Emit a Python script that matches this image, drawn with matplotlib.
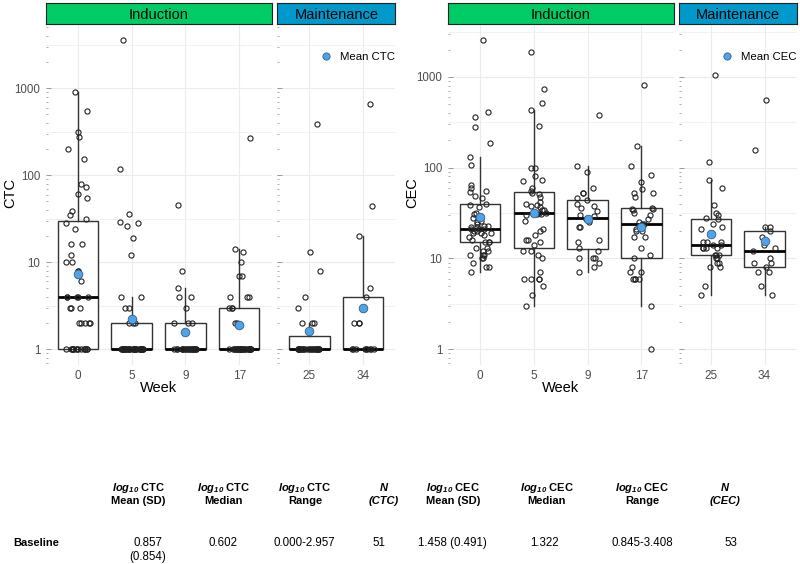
import numpy as np
import matplotlib
matplotlib.use('Agg')
import matplotlib.pyplot as plt
from matplotlib import cbook
from matplotlib.lines import Line2D
from matplotlib.ticker import FixedLocator, NullFormatter

plt.rcParams['font.family'] = ['Liberation Sans', 'DejaVu Sans']
plt.rcParams['mathtext.fontset'] = 'custom'
plt.rcParams['mathtext.it'] = 'Liberation Sans:italic:bold'
plt.rcParams['mathtext.rm'] = 'Liberation Sans:italic:bold'

# ---- data ----
induction_weeks = ['0', '5', '9', '17']
maintenance_weeks = ['25', '34']

ctc_w0 = [1, 1, 1, 1, 1, 1, 1, 1, 1, 1, 1, 1, 1, 1, 1, 2, 2, 2, 2, 2, 3, 3, 3,
          4, 4, 4, 4, 4, 6, 8, 8, 10, 10, 12, 16, 16, 24, 28, 31, 35, 39, 54,
          61, 73, 79, 153, 202, 273, 312, 548, 906]
ctc_w5 = [1, 1, 1, 1, 1, 1, 1, 1, 1, 1, 1, 1, 1, 1, 1, 1, 1, 1, 1, 1, 1, 1,
          1, 1, 1, 1, 1, 1, 1, 1, 1, 1, 1, 1, 2, 2, 2, 3, 3, 4, 4, 12, 19, 26,
          28, 29, 36, 118, 3600]
ctc_w9 = [1, 1, 1, 1, 1, 1, 1, 1, 1, 1, 1, 1, 1, 1, 1, 1, 1, 1, 1, 1, 2, 2,
          2, 3, 4, 4, 5, 8, 46]
ctc_w17 = [1, 1, 1, 1, 1, 1, 1, 1, 1, 1, 1, 1, 1, 1, 1, 1, 1, 1, 1, 1, 1, 1,
           1, 1, 1, 1, 1, 2, 2, 3, 3, 3, 4, 4, 4, 7, 7, 10, 13, 14, 271]
ctc_w25 = [1, 1, 1, 1, 1, 1, 1, 1, 1, 1, 1, 1, 1, 1, 1, 1, 1, 1, 1, 1, 1, 1,
           1, 2, 2, 2, 3, 4, 8, 13, 386]
ctc_w34 = [1, 1, 1, 1, 1, 1, 1, 1, 1, 2, 2, 2, 4, 5, 20, 44, 655]

cec_w0 = [7, 8, 8, 9, 10, 10, 11, 11, 11, 12, 12, 13, 13, 15, 15, 15, 16, 17,
          18, 19, 19, 19, 20, 20, 21, 21, 21, 22, 22, 23, 23, 24, 25, 26, 28,
          31, 32, 37, 39, 40, 46, 49, 54, 55, 60, 64, 108, 131, 186, 279, 360,
          408, 2559]
cec_w5 = [3, 4, 5, 6, 6, 6, 6, 7, 10, 11, 12, 12, 14, 15, 16, 16, 18, 20, 21,
          26, 30, 31, 31, 32, 32, 34, 34, 37, 38, 39, 40, 42, 48, 51, 53, 55,
          60, 72, 74, 81, 98, 98, 286, 433, 520, 731, 1862]
cec_w9 = [7, 8, 9, 10, 10, 10, 12, 13, 15, 16, 22, 22, 25, 27, 29, 30, 33, 36,
          38, 40, 44, 46, 52, 53, 60, 90, 103, 376]
cec_w17 = [1, 3, 6, 6, 6, 6, 7, 7, 8, 10, 11, 13, 17, 17, 20, 20, 21, 23, 24,
           24, 25, 27, 30, 32, 34, 35, 35, 36, 47, 52, 53, 58, 69, 84, 105,
           173, 823]
cec_w25 = [4, 5, 8, 8, 9, 9, 10, 10, 11, 11, 11, 13, 13, 13, 13, 14, 14, 15,
           15, 15, 19, 21, 22, 24, 27, 28, 30, 32, 39, 60, 73, 114, 1059]
cec_w34 = [4, 5, 7, 7, 8, 9, 9, 10, 12, 13, 14, 17, 20, 22, 22, 156, 550]

table_headers_ctc = [('$log_{10}$ CTC', 'Mean (SD)'), ('$log_{10}$ CTC', 'Median'),
                     ('$log_{10}$ CTC', 'Range'), ('N', '(CTC)')]
table_headers_cec = [('$log_{10}$ CEC', 'Mean (SD)'), ('$log_{10}$ CEC', 'Median'),
                     ('$log_{10}$ CEC', 'Range'), ('N', '(CEC)')]
baseline_ctc = ['0.857\n(0.854)', '0.602', '0.000-2.957', '51']
baseline_cec = ['1.458 (0.491)', '1.322', '0.845-3.408', '53']

W, H = 800, 564
GREEN = '#00CC66'
BLUE = '#0099CC'
MEAN_BLUE = '#4FA3E8'
GRID = '#EBEBEB'

fig = plt.figure(figsize=(W / 100, H / 100), dpi=100)
rng = np.random.default_rng(7)


def fx(px):
    return px / W


def fy(py):
    return 1 - py / H


def add_px_axes(left, right, top, bottom):
    return fig.add_axes([fx(left), fy(bottom), (right - left) / W, (bottom - top) / H])


def draw_facet(ax, weeks, groups, ylim, show_labels):
    pos = np.arange(len(weeks))
    stats = []
    for vals in groups:
        # box stats on the log10 scale, like ggplot with a log y-scale
        s = cbook.boxplot_stats(np.log10(vals), whis=1.5)[0]
        for k in ('med', 'q1', 'q3', 'whislo', 'whishi', 'mean'):
            s[k] = 10 ** s[k]
        s['fliers'] = []
        stats.append(s)
    ax.bxp(stats, positions=pos, widths=0.75, showfliers=False, showcaps=False,
           patch_artist=True,
           boxprops=dict(facecolor='white', edgecolor='#333333', linewidth=1.0),
           whiskerprops=dict(color='#333333', linewidth=1.0),
           medianprops=dict(color='black', linewidth=2.0), zorder=2)
    for i, vals in enumerate(groups):
        xj = i + rng.uniform(-0.22, 0.22, len(vals))
        ax.plot(xj, vals, 'o', ms=3.7, mfc='none', mec='#222222', mew=0.8, zorder=3)
        ax.plot(i, stats[i]['mean'], 'o', ms=6.2, mfc=MEAN_BLUE, mec='#2F5F8A',
                mew=0.6, zorder=4)

    ax.set_yscale('log')
    ax.set_ylim(ylim)
    ax.set_xlim(-0.6, len(weeks) - 0.4)
    ax.set_xticks(pos, weeks)
    ax.yaxis.set_major_locator(FixedLocator([1, 10, 100, 1000]))
    minors = [m * 10 ** d for d in range(-1, 4) for m in range(2, 10)]
    ax.yaxis.set_minor_locator(FixedLocator(minors))
    ax.yaxis.set_minor_formatter(NullFormatter())
    ax.set_yticklabels(['1', '10', '100', '1000'])
    ax.tick_params(axis='y', which='major', direction='in', length=3.5, width=0.7,
                   color='#999999', pad=3.8, labelsize=8.3, labelcolor='#4D4D4D',
                   labelleft=show_labels)
    ax.tick_params(axis='y', which='minor', direction='in', length=1.3, width=0.7,
                   color='#AAAAAA')
    ax.tick_params(axis='x', length=0, pad=4, labelsize=8.5, labelcolor='#4D4D4D')
    for sp in ax.spines.values():
        sp.set_visible(False)
    ax.grid(True, which='major', color=GRID, lw=0.8, zorder=0)
    for d in range(-1, 4):
        ax.axhline(10 ** (d + 0.5), color=GRID, lw=0.5, zorder=0)
    ax.set_axisbelow(True)


def strip(left, right, label, color):
    sax = add_px_axes(left, right, 3.3, 24.3)
    sax.set_facecolor(color)
    sax.set_xticks([])
    sax.set_yticks([])
    for sp in sax.spines.values():
        sp.set_color('#222222')
        sp.set_linewidth(0.8)
    sax.text(0.5, 0.45, label, ha='center', va='center', fontsize=10.5,
             transform=sax.transAxes)


def panel(ind_groups, main_groups, x_ind, x_main, name):
    allv = np.log10(np.concatenate([np.concatenate(ind_groups), np.concatenate(main_groups)]))
    lo, hi = allv.min(), allv.max()
    pad = 0.05 * (hi - lo)
    ylim = (10 ** (lo - pad), 10 ** (hi + pad))

    ax1 = add_px_axes(x_ind[0], x_ind[1], 24.4, 364.6)
    ax2 = add_px_axes(x_main[0], x_main[1], 24.4, 364.6)
    draw_facet(ax1, induction_weeks, ind_groups, ylim, True)
    draw_facet(ax2, maintenance_weeks, main_groups, ylim, False)
    strip(x_ind[0], x_ind[1], 'Induction', GREEN)
    strip(x_main[0], x_main[1], 'Maintenance', BLUE)

    handle = Line2D([], [], ls='none', marker='o', ms=5.2, mfc=MEAN_BLUE, mec='#2F5F8A', mew=0.6)
    fig.legend([handle], ['Mean ' + name], loc='center left',
               bbox_to_anchor=(fx(x_main[0] + 43), fy(56.7)), frameon=False,
               handlelength=1.0, handletextpad=0.7, borderpad=0, borderaxespad=0,
               fontsize=8.2)
    fig.text(fx((x_ind[0] + x_ind[1]) / 2), fy(388), 'Week', ha='center', va='center',
             fontsize=10.5)
    fig.text(fx(x_ind[0] - 35.5), fy(193), name, rotation=90, ha='center', va='center',
             fontsize=10.5)


panel([ctc_w0, ctc_w5, ctc_w9, ctc_w17], [ctc_w25, ctc_w34],
      (45.5, 271.5), (277.3, 395.3), 'CTC')
panel([cec_w0, cec_w5, cec_w9, cec_w17], [cec_w25, cec_w34],
      (447.7, 673.7), (678.7, 796.7), 'CEC')

# ---- table under the chart ----
head_x = [138.3, 223.3, 305, 384, 453.3, 546.7, 642.3, 725]
val_x = [148, 223, 304, 379, 452, 544.3, 642.3, 731]
for i, (l1, l2) in enumerate(table_headers_ctc + table_headers_cec):
    style = 'italic' if l1 == 'N' else 'normal'
    fig.text(fx(head_x[i]), fy(488.3), l1, ha='center', va='center', fontsize=8,
             fontweight='bold', fontstyle=style)
    fig.text(fx(head_x[i]), fy(501), l2, ha='center', va='center', fontsize=8,
             fontweight='bold', fontstyle=style)

fig.text(fx(13), fy(542.7), 'Baseline', ha='left', va='center', fontsize=8,
         fontweight='bold')
for i, v in enumerate(baseline_ctc + baseline_cec):
    lines = v.split('\n')
    for j, s in enumerate(lines):
        fig.text(fx(val_x[i]), fy(542.7 + 14.3 * j), s, ha='center', va='center',
                 fontsize=8.3)

fig.savefig('out.png', dpi=100)
